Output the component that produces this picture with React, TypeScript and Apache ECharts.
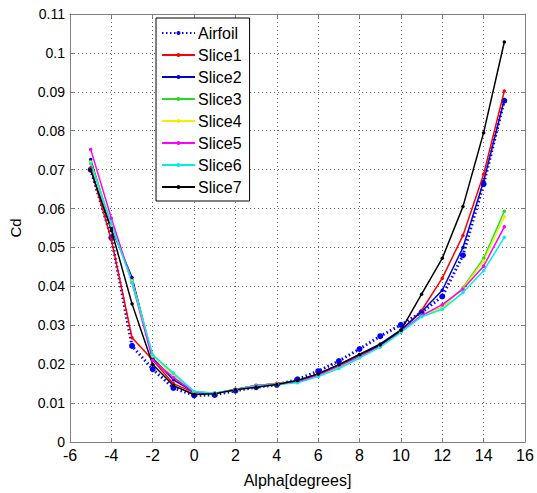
import React, { useEffect, useRef } from "react";
import * as echarts from "echarts";

const alpha = [-5, -4, -3, -2, -1, 0, 1, 2, 3, 4, 5, 6, 7, 8, 9, 10, 11, 12, 13, 14, 15];

const airfoil = [0.0700, 0.0525, 0.0247, 0.0187, 0.0139, 0.0120, 0.0121, 0.0132, 0.0141, 0.0147, 0.0161, 0.0182, 0.0208, 0.0239, 0.0272, 0.0301, 0.0333, 0.0374, 0.0480, 0.0663, 0.0877];
const slice1 = [0.0705, 0.0520, 0.0268, 0.0211, 0.0150, 0.0127, 0.0125, 0.0135, 0.0145, 0.0150, 0.0157, 0.0175, 0.0198, 0.0223, 0.0250, 0.0285, 0.0338, 0.0421, 0.0531, 0.0688, 0.0902];
const slice2 = [0.0726, 0.0550, 0.0423, 0.0215, 0.0160, 0.0128, 0.0125, 0.0135, 0.0145, 0.0150, 0.0157, 0.0175, 0.0198, 0.0225, 0.0252, 0.0288, 0.0335, 0.0390, 0.0500, 0.0670, 0.0880];
const slice3 = [0.0720, 0.0560, 0.0415, 0.0222, 0.0172, 0.0129, 0.0125, 0.0135, 0.0145, 0.0150, 0.0155, 0.0170, 0.0193, 0.0218, 0.0245, 0.0283, 0.0326, 0.0346, 0.0397, 0.0472, 0.0593];
const slice4 = [0.0718, 0.0558, 0.0413, 0.0221, 0.0171, 0.0129, 0.0125, 0.0135, 0.0145, 0.0150, 0.0155, 0.0170, 0.0193, 0.0218, 0.0245, 0.0283, 0.0325, 0.0345, 0.0395, 0.0465, 0.0579];
const slice5 = [0.0752, 0.0575, 0.0410, 0.0210, 0.0166, 0.0128, 0.0125, 0.0135, 0.0145, 0.0149, 0.0154, 0.0172, 0.0195, 0.0220, 0.0247, 0.0284, 0.0325, 0.0353, 0.0393, 0.0452, 0.0553];
const slice6 = [0.0715, 0.0560, 0.0410, 0.0224, 0.0177, 0.0130, 0.0126, 0.0135, 0.0144, 0.0148, 0.0152, 0.0168, 0.0189, 0.0216, 0.0244, 0.0282, 0.0322, 0.0341, 0.0384, 0.0440, 0.0526];
const slice7 = [0.0699, 0.0545, 0.0355, 0.0199, 0.0145, 0.0122, 0.0124, 0.0134, 0.0141, 0.0148, 0.0158, 0.0175, 0.0199, 0.0225, 0.0250, 0.0287, 0.0380, 0.0472, 0.0605, 0.0795, 0.1028];

const sliceNames = ["Slice1", "Slice2", "Slice3", "Slice4", "Slice5", "Slice6", "Slice7"];
const sliceData = [slice1, slice2, slice3, slice4, slice5, slice6, slice7];
const sliceColors = ["#ff0000", "#0000cc", "#22dd22", "#f0f000", "#ff00ff", "#00eeee", "#000000"];

const FONT = "Liberation Sans, Arial, sans-serif";

export default function App() {
  const ref = useRef<HTMLDivElement>(null);
  useEffect(() => {
    if (!ref.current) return;
    const chart = echarts.init(ref.current, undefined, { renderer: "svg" });
    const pairs = (ys: number[]) => alpha.map((a, i) => [a, ys[i]]);
    const series: any[] = [
      {
        name: "Airfoil",
        type: "line",
        data: pairs(airfoil),
        symbol: "circle",
        symbolSize: 6,
        itemStyle: { color: "#0000ff" },
        lineStyle: { color: "#0000ff", width: 3, type: [1.5, 2.5] },
        z: 2,
      },
      ...sliceNames.map((n, k) => ({
        name: n,
        type: "line",
        data: pairs(sliceData[k]),
        symbol: "circle",
        symbolSize: 3.5,
        itemStyle: { color: sliceColors[k] },
        lineStyle: { color: sliceColors[k], width: 1.5 },
        z: 3,
      })),
    ];
    const axisLine = { show: true, onZero: false, lineStyle: { color: "#808080", width: 1 } };
    const tick = { show: true, inside: true, length: 4, lineStyle: { color: "#808080" } };
    const gridLine = { show: true, lineStyle: { color: "#666", type: [1, 3], width: 1 } };
    chart.setOption({
      animation: false,
      backgroundColor: "#fff",
      textStyle: { fontFamily: FONT },
      grid: { left: 69, right: 12, top: 14, bottom: 47, containLabel: false },
      legend: {
        data: ["Airfoil", ...sliceNames],
        orient: "vertical",
        left: 156,
        top: 18,
        itemWidth: 33,
        itemHeight: 5,
        itemGap: 4,
        padding: [6, 8, 5, 5],
        borderColor: "#000",
        borderWidth: 1,
        backgroundColor: "#fff",
        textStyle: { fontSize: 16, color: "#000", fontFamily: FONT, lineHeight: 18, padding: [0, 0, 0, -2] },
      },
      xAxis: [
        {
          type: "value",
          min: -6,
          max: 16,
          interval: 2,
          name: "Alpha[degrees]",
          nameLocation: "middle",
          nameGap: 30,
          nameTextStyle: { fontSize: 16, color: "#000", fontFamily: FONT },
          axisLine,
          axisTick: tick,
          axisLabel: { fontSize: 16, color: "#000", margin: 5, fontFamily: FONT },
          splitLine: gridLine,
        },
        {
          type: "value",
          position: "top",
          min: -6,
          max: 16,
          interval: 2,
          axisLine,
          axisTick: tick,
          axisLabel: { show: false },
          splitLine: { show: false },
        },
      ],
      yAxis: [
        {
          type: "value",
          min: 0,
          max: 0.11,
          interval: 0.01,
          name: "Cd",
          nameLocation: "middle",
          nameGap: 47,
          nameTextStyle: { fontSize: 15, color: "#000", fontFamily: FONT },
          axisLine,
          axisTick: tick,
          axisLabel: {
            fontSize: 14,
            color: "#000",
            margin: 5,
            fontFamily: FONT,
            formatter: (v: number) => String(parseFloat(v.toFixed(2))),
          },
          splitLine: gridLine,
        },
        {
          type: "value",
          position: "right",
          min: 0,
          max: 0.11,
          interval: 0.01,
          axisLine,
          axisTick: tick,
          axisLabel: { show: false },
          splitLine: { show: false },
        },
      ],
      series,
    });
    return () => chart.dispose();
  }, []);
  return <div ref={ref} style={{ width: 537, height: 493, position: "absolute", left: 0, top: 0 }} />;
}
